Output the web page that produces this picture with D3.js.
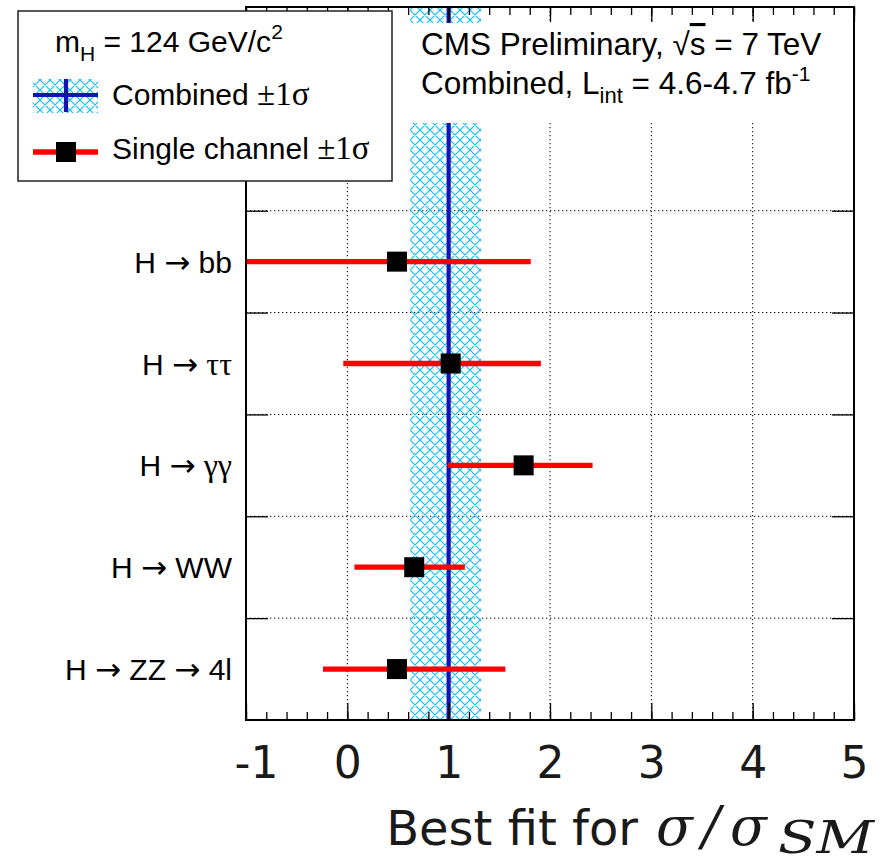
<!DOCTYPE html>
<html>
<head>
<meta charset="utf-8">
<script src="https://cdn.jsdelivr.net/npm/d3@7"></script>
<style>
  body { margin: 0; background: #fff; }
  svg { display: block; }
</style>
</head>
<body>
<svg id="chart" width="887" height="865"></svg>
<script>
// ---------------- data ----------------
const channels = ["H \u2192 ZZ \u2192 4l", "H \u2192 WW", "H \u2192 \u03b3\u03b3", "H \u2192 \u03c4\u03c4", "H \u2192 bb"];
const bestFit  = [0.49, 0.66, 1.74, 1.02, 0.49];
const errLow   = [-0.24, 0.07, 0.99, -0.04, -1.3];
const errHigh  = [1.56, 1.16, 2.42, 1.91, 1.81];
const combined = 1.0;
const combinedLow = 0.62;
const combinedHigh = 1.32;
const xTicks = [-1, 0, 1, 2, 3, 4, 5];
const nRows = 7;

// ---------------- layout ----------------
const svg = d3.select("#chart");
const L = 246, R = 854, T = 7, B = 720;
const x = d3.scaleLinear().domain([-1, 5]).range([L, R]);
const y = d3.scaleLinear().domain([0, nRows]).range([B, T]);

const defs = svg.append("defs");
const pat = defs.append("pattern").attr("id", "hatch")
  .attr("patternUnits", "userSpaceOnUse").attr("width", 10).attr("height", 10);
pat.append("path").attr("d", "M0,0 L10,10 M10,0 L0,10 M-1,9 L1,11 M9,-1 L11,1 M-1,1 L1,-1 M9,11 L11,9")
  .attr("stroke", "#12bdfb").attr("stroke-width", 1.2).attr("fill", "none");
defs.append("clipPath").attr("id", "plotclip").append("rect")
  .attr("x", L).attr("y", T).attr("width", R - L).attr("height", B - T);

const plot = svg.append("g");

// gridlines
const rowBounds = d3.range(1, nRows);
plot.selectAll(".hgrid").data(rowBounds).enter().append("line")
  .attr("x1", L).attr("x2", R).attr("y1", d => y(d)).attr("y2", d => y(d))
  .attr("stroke", "#000").attr("stroke-width", 1).attr("stroke-dasharray", "1.3,2.7");
plot.selectAll(".vgrid").data(xTicks.slice(1, -1)).enter().append("line")
  .attr("x1", d => x(d)).attr("x2", d => x(d)).attr("y1", T).attr("y2", B)
  .attr("stroke", "#000").attr("stroke-width", 1).attr("stroke-dasharray", "1.3,2.7");

// combined band
plot.append("rect")
  .attr("x", x(combinedLow)).attr("y", T)
  .attr("width", x(combinedHigh) - x(combinedLow)).attr("height", B - T)
  .attr("fill", "url(#hatch)");
plot.append("line")
  .attr("x1", x(combined)).attr("x2", x(combined)).attr("y1", T).attr("y2", B)
  .attr("stroke", "#1414b4").attr("stroke-width", 4.2);

// single channel error bars
const data = channels.map((c, i) => ({ c, v: bestFit[i], lo: errLow[i], hi: errHigh[i], row: i + 0.5 }));
const bars = plot.append("g").attr("clip-path", "url(#plotclip)");
bars.selectAll(".err").data(data).enter().append("line")
  .attr("x1", d => x(d.lo)).attr("x2", d => x(d.hi))
  .attr("y1", d => y(d.row)).attr("y2", d => y(d.row))
  .attr("stroke", "#ff0000").attr("stroke-width", 5.3);
plot.selectAll(".mk").data(data).enter().append("rect")
  .attr("x", d => x(d.v) - 10).attr("y", d => y(d.row) - 10)
  .attr("width", 20).attr("height", 20).attr("fill", "#000");

// axes ticks
const minorTicks = d3.range(-1, 5.001, 0.2).map(v => +v.toFixed(1));
const axB = svg.append("g").attr("transform", `translate(0,${B})`)
  .call(d3.axisBottom(x).tickValues(xTicks).tickSize(-17).tickFormat(d3.format("d")));
svg.append("g").attr("transform", `translate(0,${B})`)
  .call(d3.axisBottom(x).tickValues(minorTicks).tickSize(-8).tickFormat(""));
svg.append("g").attr("transform", `translate(0,${T})`)
  .call(d3.axisTop(x).tickValues(xTicks).tickSize(-15).tickFormat(""));
svg.append("g").attr("transform", `translate(0,${T})`)
  .call(d3.axisTop(x).tickValues(minorTicks).tickSize(-8).tickFormat(""));
svg.append("g").attr("transform", `translate(${L},0)`)
  .call(d3.axisLeft(y).tickValues(rowBounds).tickSize(-22).tickFormat(""));
svg.append("g").attr("transform", `translate(${R},0)`)
  .call(d3.axisRight(y).tickValues(rowBounds).tickSize(-22).tickFormat(""));
svg.selectAll(".domain").remove();
svg.selectAll(".tick line").attr("stroke", "#000").attr("stroke-width", 1.3);

axB.selectAll(".tick text")
  .attr("y", 58).attr("dy", 0)
  .attr("dx", d => d < 0 ? 10 : 0)
  .attr("font-family", "'DejaVu Sans', sans-serif").attr("font-size", 44)
  .attr("fill", "#1a1a1a")
  .text(d => d < 0 ? "-" + Math.abs(d) : d);

// frame
svg.append("rect").attr("x", L).attr("y", T).attr("width", R - L).attr("height", B - T)
  .attr("fill", "none").attr("stroke", "#000").attr("stroke-width", 2);

// category labels
const lab = svg.append("g").attr("font-family", "'Liberation Sans', Arial, sans-serif")
  .attr("font-size", 30).attr("fill", "#000");
data.forEach(d => {
  const t = lab.append("text").attr("x", 232).attr("y", y(d.row) + 11).attr("text-anchor", "end");
  const parts = d.c.split(/([\u03b3\u03c4\u2192])/);
  parts.forEach(p => {
    if (!p) return;
    const ts = t.append("tspan").text(p);
    if (/[\u03b3\u03c4]/.test(p)) ts.attr("font-family", "'Liberation Serif', serif").attr("font-size", 32);
    if (p === "\u2192") ts.attr("font-family", "'DejaVu Sans', sans-serif").attr("font-size", 31);
  });
});

// text box (top right)
svg.append("rect").attr("x", 393).attr("y", 23).attr("width", 460).attr("height", 100).attr("fill", "#fff");
const tb = svg.append("g").attr("font-family", "'Liberation Sans', Arial, sans-serif")
  .attr("font-size", 31.5).attr("fill", "#000");
const t1 = tb.append("text").attr("x", 421).attr("y", 55);
t1.append("tspan").text("CMS Preliminary, \u221A");
t1.append("tspan").attr("text-decoration", "overline").text("s");
t1.append("tspan").text(" = 7 TeV");
const t2 = tb.append("text").attr("x", 421).attr("y", 94);
t2.append("tspan").text("Combined, L");
t2.append("tspan").attr("font-size", 22).attr("dy", 9).text("int");
t2.append("tspan").attr("dy", -9).text(" = 4.6-4.7 fb");
t2.append("tspan").attr("font-size", 21).attr("dy", -13).text("-1");

// legend (top left)
const lg = svg.append("g");
lg.append("rect").attr("x", 18).attr("y", 11).attr("width", 374).attr("height", 170)
  .attr("fill", "#fff").attr("stroke", "#222").attr("stroke-width", 1.5);
const lt = lg.append("g").attr("font-family", "'Liberation Sans', Arial, sans-serif")
  .attr("font-size", 30).attr("fill", "#000");
const m = lt.append("text").attr("x", 55).attr("y", 52);
m.append("tspan").text("m");
m.append("tspan").attr("font-size", 21).attr("dy", 9).text("H");
m.append("tspan").attr("dy", -9).text(" = 124 GeV/c");
m.append("tspan").attr("font-size", 21).attr("dy", -13).text("2");
const e1 = lt.append("text").attr("x", 112).attr("y", 105);
e1.append("tspan").text("Combined ");
e1.append("tspan").attr("font-family", "'Liberation Serif', serif").attr("font-size", 33).text("\u00b11\u03c3");
const e2 = lt.append("text").attr("x", 112).attr("y", 159);
e2.append("tspan").text("Single channel ");
e2.append("tspan").attr("font-family", "'Liberation Serif', serif").attr("font-size", 33).text("\u00b11\u03c3");
lg.append("rect").attr("x", 33).attr("y", 79).attr("width", 65).attr("height", 34).attr("fill", "url(#hatch)");
lg.append("line").attr("x1", 33).attr("x2", 98).attr("y1", 95).attr("y2", 95)
  .attr("stroke", "#1414b4").attr("stroke-width", 4.2);
lg.append("line").attr("x1", 66).attr("x2", 66).attr("y1", 79).attr("y2", 112)
  .attr("stroke", "#1414b4").attr("stroke-width", 4.2);
lg.append("line").attr("x1", 33).attr("x2", 98).attr("y1", 152).attr("y2", 152)
  .attr("stroke", "#ff0000").attr("stroke-width", 5.3);
lg.append("rect").attr("x", 56).attr("y", 142).attr("width", 20).attr("height", 20).attr("fill", "#000");

// x-axis title
svg.append("text").attr("x", 638).attr("y", 845).attr("text-anchor", "end")
  .attr("font-family", "'DejaVu Sans', sans-serif").attr("font-size", 48)
  .attr("fill", "#1a1a1a")
  .text("Best fit for");
const xm = svg.append("text").attr("y", 845)
  .attr("font-family", "'DejaVu Serif', serif").attr("font-style", "italic").attr("fill", "#1a1a1a");
xm.append("tspan").attr("x", 656).attr("font-size", 54).text("\u03c3");
xm.append("tspan").attr("x", 702).attr("font-size", 54).text("/");
xm.append("tspan").attr("x", 730).attr("font-size", 54).text("\u03c3");
xm.append("tspan").attr("x", 778).attr("font-size", 44).attr("dy", 8)
  .attr("textLength", 96).attr("lengthAdjust", "spacingAndGlyphs").text("SM");
</script>
</body>
</html>
